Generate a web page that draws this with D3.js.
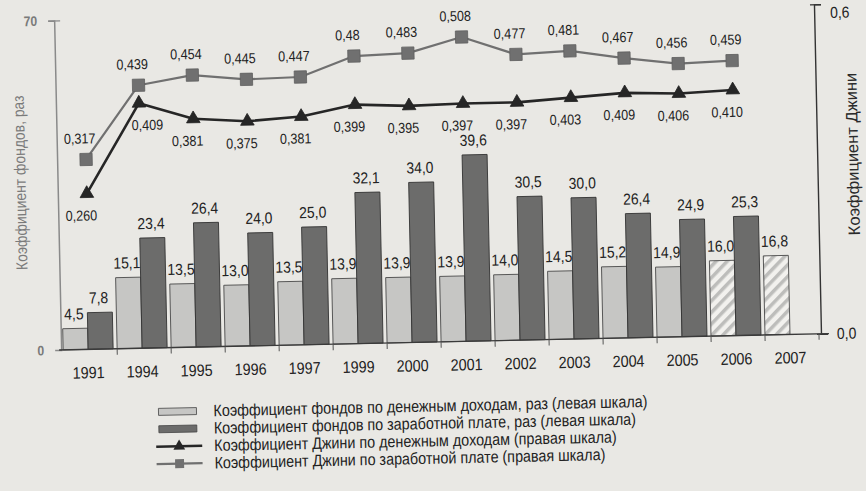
<!DOCTYPE html>
<html>
<head>
<meta charset="utf-8">
<script src="https://cdn.jsdelivr.net/npm/d3@7"></script>
<style>
  body { margin: 0; background: #e9e8e4; }
  svg { display: block; font-family: "Liberation Sans", Arial, sans-serif; }
</style>
</head>
<body>
<svg width="866" height="491"></svg>
<script>
// years on the x axis
var years = ["1991", "1994", "1995", "1996", "1997", "1999", "2000", "2001", "2002", "2003", "2004", "2005", "2006", "2007"];
// funds ratio, times (left scale)
var fundsIncome = [4.5, 15.1, 13.5, 13.0, 13.5, 13.9, 13.9, 13.9, 14.0, 14.5, 15.2, 14.9, 16.0, 16.8];
var fundsWage = [7.8, 23.4, 26.4, 24.0, 25.0, 32.1, 34.0, 39.6, 30.5, 30.0, 26.4, 24.9, 25.3, null];
// Gini (right scale)
var giniIncome = [0.260, 0.409, 0.381, 0.375, 0.381, 0.399, 0.395, 0.397, 0.397, 0.403, 0.409, 0.406, 0.410, null];
var giniWage = [0.317, 0.439, 0.454, 0.445, 0.447, 0.48, 0.483, 0.508, 0.477, 0.481, 0.467, 0.456, 0.459, null];
// years drawn hatched (estimates)
var hatchedYears = ["2006", "2007"];
// axis ticks
var leftTicks = [0, 70];
var rightTicks = [0, 0.55];
var legendLabels = [
  "Коэффициент фондов по денежным доходам, раз (левая шкала)",
  "Коэффициент фондов по заработной плате, раз (левая шкала)",
  "Коэффициент Джини по денежным доходам (правая шкала)",
  "Коэффициент Джини по заработной плате (правая шкала)"
];

var ru = d3.formatLocale({ decimal: ",", thousands: " ", grouping: [3], currency: ["", ""] });

var svg = d3.select("svg"),
    top0 = 12.5,
    base = 342,
    xLeft = 59,
    xRight = 819,
    narrowK = 0.87;

// squeeze text horizontally (the print uses a narrow typeface)
function narrow(sel) {
  sel.each(function() {
    var t = d3.select(this),
        tx = +t.attr("x") || 0,
        ty = +t.attr("y") || 0;
    t.attr("transform", "translate(" + tx + "," + ty + ") scale(" + narrowK + ",1)")
      .attr("x", 0).attr("y", 0);
  });
}

// pattern for hatched bars
var pat = svg.append("defs").append("pattern")
    .attr("id", "hatch")
    .attr("patternUnits", "userSpaceOnUse")
    .attr("width", 8).attr("height", 8)
    .attr("patternTransform", "rotate(45)");
pat.append("rect").attr("width", 8).attr("height", 8).attr("fill", "#f2f1ee");
pat.append("rect").attr("width", 3.5).attr("height", 8).attr("fill", "#bdbdbb");

// whole page is slightly tilted, like the photo
var g = svg.append("g").attr("transform", "rotate(-1.22 433 245)");

var x = d3.scaleBand().domain(years).range([61, 817]).padding(0);
var xi = d3.scaleBand().domain(["inc", "wage"]).range([0, 50]);
var yL = d3.scaleLinear().domain([0, 70]).range([base, top0]);
var yR = d3.scaleLinear().domain([0, 0.55]).range([base, top0]);

// left axis
var axL = g.append("g")
    .attr("transform", "translate(" + xLeft + ",0)")
    .call(d3.axisLeft(yL).tickValues(leftTicks).tickSize(6).tickPadding(11).tickFormat(d3.format("d")));
axL.select(".domain").attr("stroke", "#8a8a8a").attr("stroke-width", 1.5);
axL.selectAll(".tick line").attr("stroke", "#8a8a8a").attr("stroke-width", 1.3).attr("x1", 6);
axL.selectAll(".tick text").attr("fill", "#7a7a7a").attr("font-size", 14).attr("font-weight", "bold").call(narrow);
axL.selectAll(".tick").filter(function(d) { return d === 0; }).select("line").remove();

// right axis
var axR = g.append("g")
    .attr("transform", "translate(" + xRight + ",0)")
    .call(d3.axisRight(yR).tickValues(rightTicks).tickSize(7).tickPadding(9).tickFormat(ru.format(".1f")));
axR.select(".domain").attr("stroke", "#333").attr("stroke-width", 1.4);
axR.selectAll(".tick line").attr("stroke", "#333").attr("stroke-width", 1.2).attr("x1", -4);
axR.selectAll(".tick text").attr("fill", "#222").attr("font-size", 16).call(narrow);
// keep the top label inside the page
axR.selectAll(".tick text").filter(function(d) { return d > 0; }).attr("dy", "0.85em");

// bars
var grp = g.selectAll(".year")
  .data(years)
  .enter().append("g")
    .attr("transform", function(d) { return "translate(" + x(d) + ",0)"; });

grp.append("rect")
    .attr("x", xi("inc"))
    .attr("width", xi.bandwidth())
    .attr("y", function(d, i) { return yL(fundsIncome[i]); })
    .attr("height", function(d, i) { return base - yL(fundsIncome[i]); })
    .attr("fill", function(d) { return hatchedYears.indexOf(d) >= 0 ? "url(#hatch)" : "#c6c6c4"; })
    .attr("stroke", "#4a4a4a")
    .attr("stroke-width", 0.9);

grp.filter(function(d, i) { return fundsWage[i] != null; })
  .append("rect")
    .attr("x", xi("wage"))
    .attr("width", xi.bandwidth())
    .attr("y", function(d) { return yL(fundsWage[years.indexOf(d)]); })
    .attr("height", function(d) { return base - yL(fundsWage[years.indexOf(d)]); })
    .attr("fill", "#6c6c6b")
    .attr("stroke", "#333")
    .attr("stroke-width", 0.9);

// bar labels
grp.append("text")
    .attr("x", xi("inc") + xi.bandwidth() / 2 - 1)
    .attr("y", function(d, i) { return yL(fundsIncome[i]) - 9; })
    .attr("text-anchor", "middle")
    .attr("font-size", 16)
    .attr("fill", "#222")
    .text(function(d, i) { return ru.format(".1f")(fundsIncome[i]); })
    .call(narrow);

grp.filter(function(d, i) { return fundsWage[i] != null; })
  .append("text")
    .attr("x", xi("wage") + xi.bandwidth() / 2 - 1)
    .attr("y", function(d) { return yL(fundsWage[years.indexOf(d)]) - 9; })
    .attr("text-anchor", "middle")
    .attr("font-size", 16)
    .attr("fill", "#222")
    .text(function(d) { return ru.format(".1f")(fundsWage[years.indexOf(d)]); })
    .call(narrow);

// baseline and category ticks
g.append("line")
    .attr("x1", 57).attr("x2", 827)
    .attr("y1", base).attr("y2", base)
    .attr("stroke", "#3a3a3a").attr("stroke-width", 1.4);

g.selectAll(".sep")
  .data(years.slice(1).concat(["end"]))
  .enter().append("line")
    .attr("x1", function(d) { return d === "end" ? x.range()[1] : x(d); })
    .attr("x2", function(d) { return d === "end" ? x.range()[1] : x(d); })
    .attr("y1", base).attr("y2", base + 6)
    .attr("stroke", "#555").attr("stroke-width", 1);

g.selectAll(".xlab")
  .data(years)
  .enter().append("text")
    .attr("x", function(d) { return x(d) + x.bandwidth() / 2 - 2; })
    .attr("y", base + 29)
    .attr("text-anchor", "middle")
    .attr("font-size", 16.5)
    .attr("fill", "#222")
    .text(function(d) { return d; })
    .call(narrow);

// gini lines
var px = function(i) { return x(years[i]) + x.bandwidth() / 2; };

function giniSeries(values, color, width, symbol, size, below, fmt) {
  var pts = values.map(function(v, i) { return { i: i, v: v }; })
    .filter(function(d) { return d.v != null; });

  g.append("path")
    .datum(pts)
    .attr("fill", "none")
    .attr("stroke", color)
    .attr("stroke-width", width)
    .attr("stroke-linejoin", "round")
    .attr("d", d3.line()
      .x(function(d) { return px(d.i); })
      .y(function(d) { return yR(d.v); }));

  g.selectAll(null)
    .data(pts)
    .enter().append("path")
      .attr("transform", function(d) { return "translate(" + px(d.i) + "," + yR(d.v) + ")"; })
      .attr("d", d3.symbol().type(symbol).size(size))
      .attr("fill", color)
      .attr("stroke", d3.color(color).darker(0.5))
      .attr("stroke-width", 0.8);

  g.selectAll(null)
    .data(pts)
    .enter().append("text")
      .attr("x", function(d) { return px(d.i) + (below && d.i === 1 ? 8 : -6); })
      .attr("y", function(d) { return yR(d.v) + (below ? 27 : -16); })
      .attr("text-anchor", "middle")
      .attr("font-size", 14.5)
      .attr("fill", "#222")
      .text(function(d) { return fmt(d.v); })
      .call(narrow);
}

giniSeries(giniWage, "#707070", 2.2, d3.symbolSquare, 150, false, ru.format(".3~f"));
giniSeries(giniIncome, "#262626", 2.6, d3.symbolTriangle, 80, true, ru.format(".3f"));

// axis titles
g.append("text")
    .attr("transform", "translate(27,174) rotate(-90) scale(" + narrowK + ",1)")
    .attr("text-anchor", "middle")
    .attr("font-size", 16)
    .attr("fill", "#7a7a7a")
    .text("Коэффициент фондов, раз");

g.append("text")
    .attr("transform", "translate(860,163) rotate(-90)")
    .attr("text-anchor", "middle")
    .attr("font-size", 16.5)
    .attr("fill", "#2a2a2a")
    .text("Коэффициент Джини");

// legend
var leg = g.selectAll(".leg")
  .data(legendLabels)
  .enter().append("g")
    .attr("transform", function(d, i) { return "translate(152," + (406 + i * 17.4) + ")"; });

leg.filter(function(d, i) { return i < 2; })
  .append("rect")
    .attr("x", 3).attr("y", -3.5)
    .attr("width", 38).attr("height", 7)
    .attr("fill", function(d, i) { return i === 0 ? "#c6c6c4" : "#6c6c6b"; })
    .attr("stroke", "#444").attr("stroke-width", 0.8);

leg.filter(function(d, i) { return i >= 2; })
  .append("line")
    .attr("x1", 0).attr("x2", 46)
    .attr("stroke", function(d, i) { return i === 0 ? "#262626" : "#707070"; })
    .attr("stroke-width", function(d, i) { return i === 0 ? 2.6 : 2.2; });

leg.filter(function(d, i) { return i >= 2; })
  .append("path")
    .attr("transform", "translate(23,0)")
    .attr("d", function(d, i) { return d3.symbol().type(i === 0 ? d3.symbolTriangle : d3.symbolSquare).size(i === 0 ? 60 : 80)(); })
    .attr("fill", function(d, i) { return i === 0 ? "#262626" : "#707070"; });

leg.append("text")
    .attr("x", 58)
    .attr("y", 5.5)
    .attr("font-size", 16.5)
    .attr("fill", "#222")
    .text(function(d) { return d; })
    .call(narrow);
</script>
</body>
</html>
